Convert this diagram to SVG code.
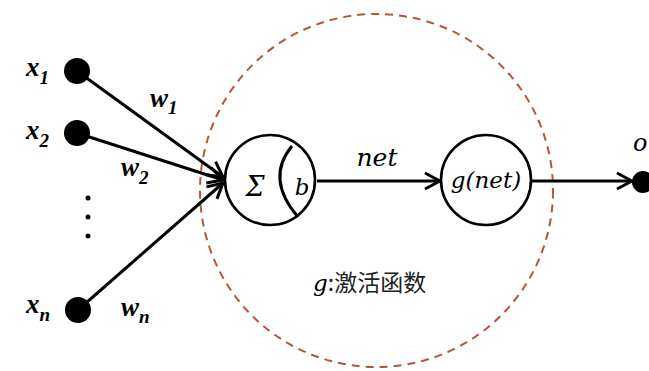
<svg xmlns="http://www.w3.org/2000/svg" width="649" height="371" viewBox="0 0 649 371">
<style>
.ln{stroke:#000;stroke-width:3;fill:none}
.nd{stroke:#000;stroke-width:2.6;fill:#fff}
.dot{fill:#000}
.lbl{font-family:"Liberation Serif",serif;font-style:italic;font-weight:bold;font-size:27px;fill:#000}
.sub{font-size:19px}
.mt{font-family:"DejaVu Serif",serif;font-style:italic;fill:#000}
.cn{font-family:"Noto Sans CJK SC",sans-serif;font-size:23px;fill:#222}
</style>
<defs>
<marker id="ah" markerUnits="userSpaceOnUse" markerWidth="22" markerHeight="22" viewBox="0 0 22 22" refX="19" refY="11" orient="auto">
<path d="M4,3 L19,11 L4,19" fill="none" stroke="#000" stroke-width="3" stroke-linejoin="miter"/>
</marker>
</defs>
<circle cx="376.5" cy="190.5" r="176.5" fill="none" stroke="#b5553a" stroke-width="2" stroke-dasharray="8,6"/>
<g id="connectors">
<line class="ln" x1="77" y1="71" x2="223" y2="177" marker-end="url(#ah)"/>
<line class="ln" x1="77" y1="133" x2="223" y2="180" marker-end="url(#ah)"/>
<line class="ln" x1="78" y1="310" x2="223" y2="183" marker-end="url(#ah)"/>
<line class="ln" x1="317" y1="181" x2="440" y2="181" marker-end="url(#ah)"/>
<line class="ln" x1="531" y1="181" x2="632" y2="181" marker-end="url(#ah)"/>
</g>
<g id="x1"><circle class="dot" cx="77" cy="71" r="13"/><text class="lbl" x="26" y="76">x<tspan class="sub" dy="8">1</tspan></text></g>
<g id="x2"><circle class="dot" cx="77" cy="133" r="13"/><text class="lbl" x="26" y="139">x<tspan class="sub" dy="8">2</tspan></text></g>
<g id="xn"><circle class="dot" cx="78" cy="310" r="13"/><text class="lbl" x="26" y="313">x<tspan class="sub" dy="8">n</tspan></text></g>
<g id="ellipsis"><circle class="dot" cx="88" cy="198" r="2.5"/><circle class="dot" cx="88" cy="217" r="2.5"/><circle class="dot" cx="88" cy="236" r="2.5"/></g>
<g id="w-labels">
<text class="lbl" x="150" y="107">w<tspan class="sub" dy="7">1</tspan></text>
<text class="lbl" x="121" y="176">w<tspan class="sub" dy="8">2</tspan></text>
<text class="lbl" x="121" y="316">w<tspan class="sub" dy="7">n</tspan></text>
</g>
<g id="sum">
<circle class="nd" cx="270" cy="180" r="45"/>
<path class="ln" d="M292,146 Q265,178.5 298,217" stroke-width="2.6"/>
<text class="mt" x="255" y="196" text-anchor="middle" style="font-size:27px">Σ</text>
<text class="mt" x="302" y="195" text-anchor="middle" style="font-size:23px">b</text>
</g>
<text class="mt" x="377" y="166" text-anchor="middle" style="font-size:25px">net</text>
<g id="g">
<circle class="nd" cx="486" cy="180" r="45"/>
<text class="mt" x="486" y="188" text-anchor="middle" style="font-size:23px">g(net)</text>
</g>
<g id="out">
<circle class="dot" cx="643" cy="182" r="11"/>
<text class="mt" x="633" y="151" style="font-size:24px">o</text>
</g>
<text x="313" y="291"><tspan class="mt" style="font-size:23px">g</tspan><tspan class="cn">:激活函数</tspan></text>
</svg>
